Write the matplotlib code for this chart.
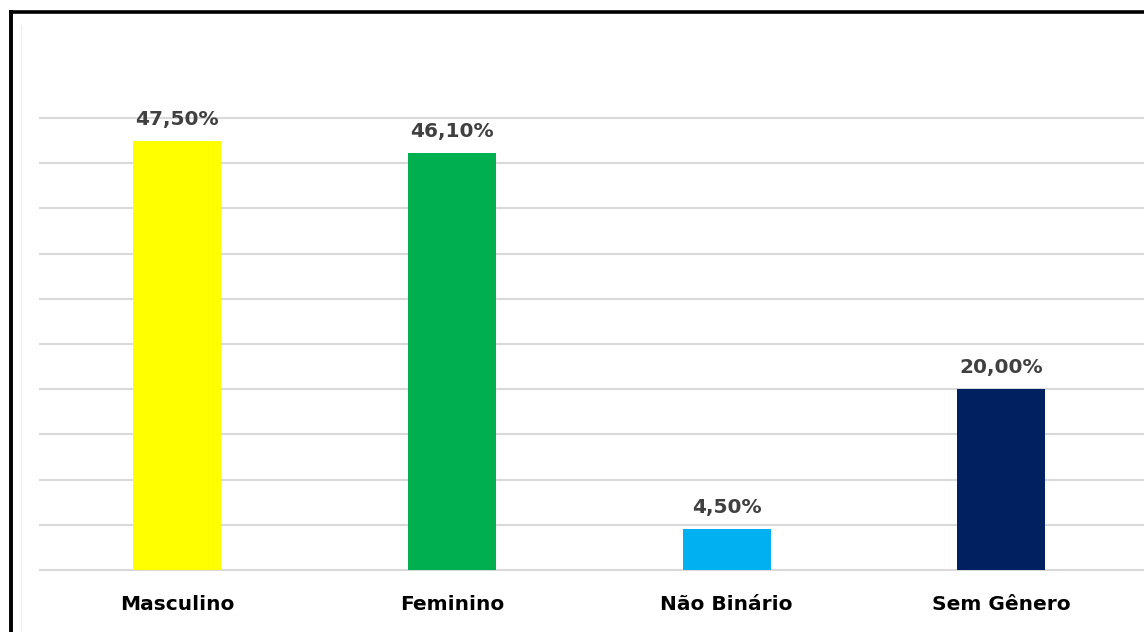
import matplotlib.pyplot as plt
from matplotlib.lines import Line2D

categories = ["Masculino", "Feminino", "Não Binário", "Sem Gênero"]
percentages = [47.5, 46.1, 4.5, 20.0]
bar_colors = ["#FFFF00", "#00B050", "#00B0F0", "#002060"]

W, H = 1144, 632
fig = plt.figure(figsize=(W / 100, H / 100), dpi=100)
fig.patch.set_facecolor("white")

# plot area in pixel terms: left 40, baseline at 570, 50% line at 118
ax = fig.add_axes([40 / W, 1 - 570 / H, 1 - 40 / W, (570 - 118) / H])
ax.set_xlim(-0.5, 3.52)
ax.set_ylim(0, 50)

for y in range(0, 51, 5):
    ax.axhline(y, color="#d9d9d9", lw=1.5, zorder=0, clip_on=False)

ax.bar(range(len(categories)), percentages, width=0.32, color=bar_colors, zorder=2)

for i, (cat, val) in enumerate(zip(categories, percentages)):
    label = f"{val:.2f}%".replace(".", ",")
    ax.annotate(label, xy=(i, val), xytext=(0, 11.5), textcoords="offset points",
                ha="center", va="baseline", fontsize=14.5, fontweight="bold",
                color="#404040", family="DejaVu Sans")
    ax.annotate(cat, xy=(i, 0), xytext=(0, -29), textcoords="offset points",
                ha="center", va="baseline", fontsize=14.5, fontweight="bold",
                color="black", family="DejaVu Sans")

ax.set_xticks([])
ax.set_yticks([])
for s in ax.spines.values():
    s.set_visible(False)

# black frame, only top and left edges fall inside the image
fig.add_artist(Line2D([10.5 / W, 1], [1 - 11.5 / H, 1 - 11.5 / H],
                      transform=fig.transFigure, color="black", lw=2.6))
fig.add_artist(Line2D([10.5 / W, 10.5 / W], [0, 1 - 11.5 / H],
                      transform=fig.transFigure, color="black", lw=2.8))
fig.add_artist(Line2D([21 / W, 21 / W], [0, 1 - 25 / H],
                      transform=fig.transFigure, color="#eeeeee", lw=1))

fig.savefig("out.png", dpi=100)
